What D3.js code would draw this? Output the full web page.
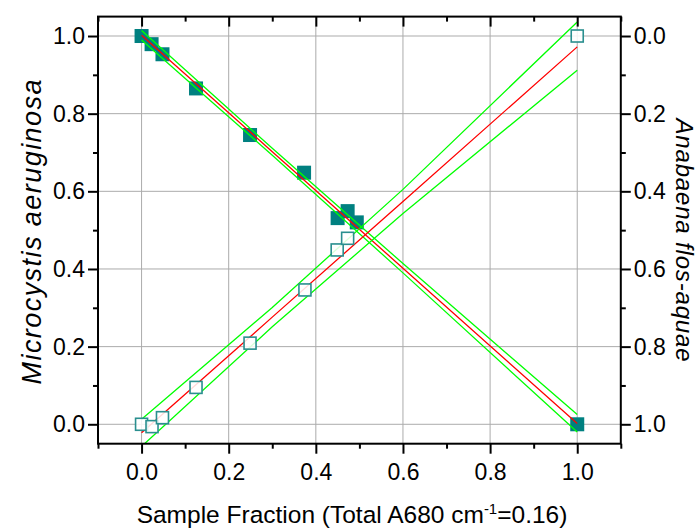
<!DOCTYPE html>
<html>
<head>
<meta charset="utf-8">
<script src="https://cdn.jsdelivr.net/npm/d3@7"></script>
<style>
  html, body { margin: 0; padding: 0; background: #fff; }
  svg { display: block; font-family: "Liberation Sans", Arial, sans-serif; }
</style>
</head>
<body>
<svg id="chart" width="700" height="529"></svg>
<script>
// ---- Data ----
const micX = [0, 0.023, 0.048, 0.125, 0.249, 0.373, 0.450, 0.473, 0.494, 1.0];
const micY = [1.0, 0.979, 0.953, 0.865, 0.745, 0.648, 0.531, 0.549, 0.520, 0.0];

// Anabaena values in right-axis units (right axis is reversed)
const anaX = [0, 0.024, 0.048, 0.125, 0.249, 0.375, 0.449, 0.473, 1.0];
const anaY = [1.0, 1.006, 0.983, 0.905, 0.791, 0.654, 0.551, 0.521, 0.0];

// Fit lines and confidence bands
const bandX    = [0, 0.3, 0.6, 1.0];
const micFit   = [1.002, 0.702, 0.402, 0.002];
const micUpper = [1.014, 0.711, 0.414, 0.025];
const micLower = [0.990, 0.693, 0.390, -0.020];
const anaFit   = [1.022, 0.724, 0.426, 0.028];
const anaUpper = [0.987, 0.699, 0.395, -0.036];
const anaLower = [1.057, 0.749, 0.457, 0.088];

const xMajor = [0, 0.2, 0.4, 0.6, 0.8, 1.0];
const xMinor = [-0.1, 0.1, 0.3, 0.5, 0.7, 0.9, 1.1];
const yMajor = [0, 0.2, 0.4, 0.6, 0.8, 1.0];
const yMinor = [0.1, 0.3, 0.5, 0.7, 0.9];

const xTitle = "Sample Fraction (Total A680 cm";
const yTitle = "Microcystis aeruginosa";
const y2Title = "Anabaena flos-aquae";

// ---- Layout ----
const L = 98, R = 620.8, T = 16.6, B = 443.7;
const svg = d3.select("#chart");

const x = d3.scaleLinear().domain([-0.1, 1.1]).range([L, R]);
const y = d3.scaleLinear().domain([-0.05, 1.05]).range([B, T]);
const y2 = d3.scaleLinear().domain([1.05, -0.05]).range([B, T]);

const fmt = d3.format(".1f");

// gridlines
const grid = svg.append("g").attr("stroke", "#ababab").attr("stroke-width", 1);
grid.selectAll("line.gx").data(xMajor).join("line")
  .attr("x1", d => x(d)).attr("x2", d => x(d)).attr("y1", T).attr("y2", B);
grid.selectAll("line.gy").data(yMajor).join("line")
  .attr("y1", d => y(d)).attr("y2", d => y(d)).attr("x1", L).attr("x2", R);

// clip
svg.append("clipPath").attr("id", "clip").append("rect")
  .attr("x", L).attr("y", T).attr("width", R - L).attr("height", B - T);
const plot = svg.append("g").attr("clip-path", "url(#clip)");

// filled squares (Microcystis)
const micPts = micX.map((d, i) => [d, micY[i]]);
const fs = 14;
plot.append("g").selectAll("rect").data(micPts).join("rect")
  .attr("x", d => x(d[0]) - fs / 2).attr("y", d => y(d[1]) - fs / 2)
  .attr("width", fs).attr("height", fs)
  .attr("fill", "#008080");

// lines
function drawLine(vals, scale, color) {
  const pts = bandX.map((d, i) => [d, vals[i]]);
  plot.append("path").datum(pts)
    .attr("d", d3.line().x(d => x(d[0])).y(d => scale(d[1])))
    .attr("fill", "none").attr("stroke", color).attr("stroke-width", 1.3);
}
drawLine(micUpper, y, "#00ff00");
drawLine(micLower, y, "#00ff00");
drawLine(micFit, y, "#ff0000");
drawLine(anaUpper, y2, "#00ff00");
drawLine(anaLower, y2, "#00ff00");
drawLine(anaFit, y2, "#ff0000");

// open squares (Anabaena)
const anaPts = anaX.map((d, i) => [d, anaY[i]]);
const os = 12;
plot.append("g").selectAll("rect").data(anaPts).join("rect")
  .attr("x", d => x(d[0]) - os / 2).attr("y", d => y2(d[1]) - os / 2)
  .attr("width", os).attr("height", os)
  .attr("fill", "#ffffff").attr("fill-opacity", 0.85)
  .attr("stroke", "#2a8f8f").attr("stroke-width", 1.6);

// axes
function styleAxis(g, fontSize) {
  g.select(".domain").remove();
  g.selectAll(".tick line").attr("stroke", "#000").attr("stroke-width", 2);
  g.selectAll(".tick text").attr("fill", "#000")
    .attr("font-size", fontSize).attr("font-family", "Liberation Sans, Arial, sans-serif");
}
const fsz = 23;
// bottom
const gB = svg.append("g").attr("transform", `translate(0,${B})`)
  .call(d3.axisBottom(x).tickValues(xMajor).tickFormat(fmt).tickSize(10).tickPadding(10));
styleAxis(gB, fsz);
const gBm = svg.append("g").attr("transform", `translate(0,${B})`)
  .call(d3.axisBottom(x).tickValues(xMinor).tickFormat("").tickSize(5));
styleAxis(gBm, fsz);
// top (inward)
const gT = svg.append("g").attr("transform", `translate(0,${T})`)
  .call(d3.axisBottom(x).tickValues(xMajor).tickFormat("").tickSize(10));
styleAxis(gT, fsz);
const gTm = svg.append("g").attr("transform", `translate(0,${T})`)
  .call(d3.axisBottom(x).tickValues(xMinor).tickFormat("").tickSize(5));
styleAxis(gTm, fsz);
// left
const gL = svg.append("g").attr("transform", `translate(${L},0)`)
  .call(d3.axisLeft(y).tickValues(yMajor).tickFormat(fmt).tickSize(10).tickPadding(3));
styleAxis(gL, fsz);
const gLm = svg.append("g").attr("transform", `translate(${L},0)`)
  .call(d3.axisLeft(y).tickValues(yMinor).tickFormat("").tickSize(5));
styleAxis(gLm, fsz);
// right
const gR = svg.append("g").attr("transform", `translate(${R},0)`)
  .call(d3.axisRight(y2).tickValues(yMajor).tickFormat(fmt).tickSize(10).tickPadding(3));
styleAxis(gR, fsz);
const gRm = svg.append("g").attr("transform", `translate(${R},0)`)
  .call(d3.axisRight(y2).tickValues(yMinor).tickFormat("").tickSize(5));
styleAxis(gRm, fsz);

// frame
svg.append("rect").attr("x", L).attr("y", T).attr("width", R - L).attr("height", B - T)
  .attr("fill", "none").attr("stroke", "#000").attr("stroke-width", 2);

// titles
const xt = svg.append("text").attr("x", 352).attr("y", 523)
  .attr("text-anchor", "middle").attr("font-size", 24.5).attr("fill", "#000");
xt.append("tspan").text(xTitle);
xt.append("tspan").attr("dy", -9).attr("font-size", 15).text("-1");
xt.append("tspan").attr("dy", 9).text("=0.16)");

svg.append("text").attr("transform", `translate(41,232) rotate(-90)`)
  .attr("text-anchor", "middle").attr("font-size", 27).attr("font-style", "italic")
  .attr("textLength", 305).attr("lengthAdjust", "spacing")
  .attr("fill", "#000").text(yTitle);

svg.append("text").attr("transform", `translate(676,240) rotate(90)`)
  .attr("text-anchor", "middle").attr("font-size", 24).attr("font-style", "italic")
  .attr("textLength", 243).attr("lengthAdjust", "spacing")
  .attr("fill", "#000").text(y2Title);
</script>
</body>
</html>
